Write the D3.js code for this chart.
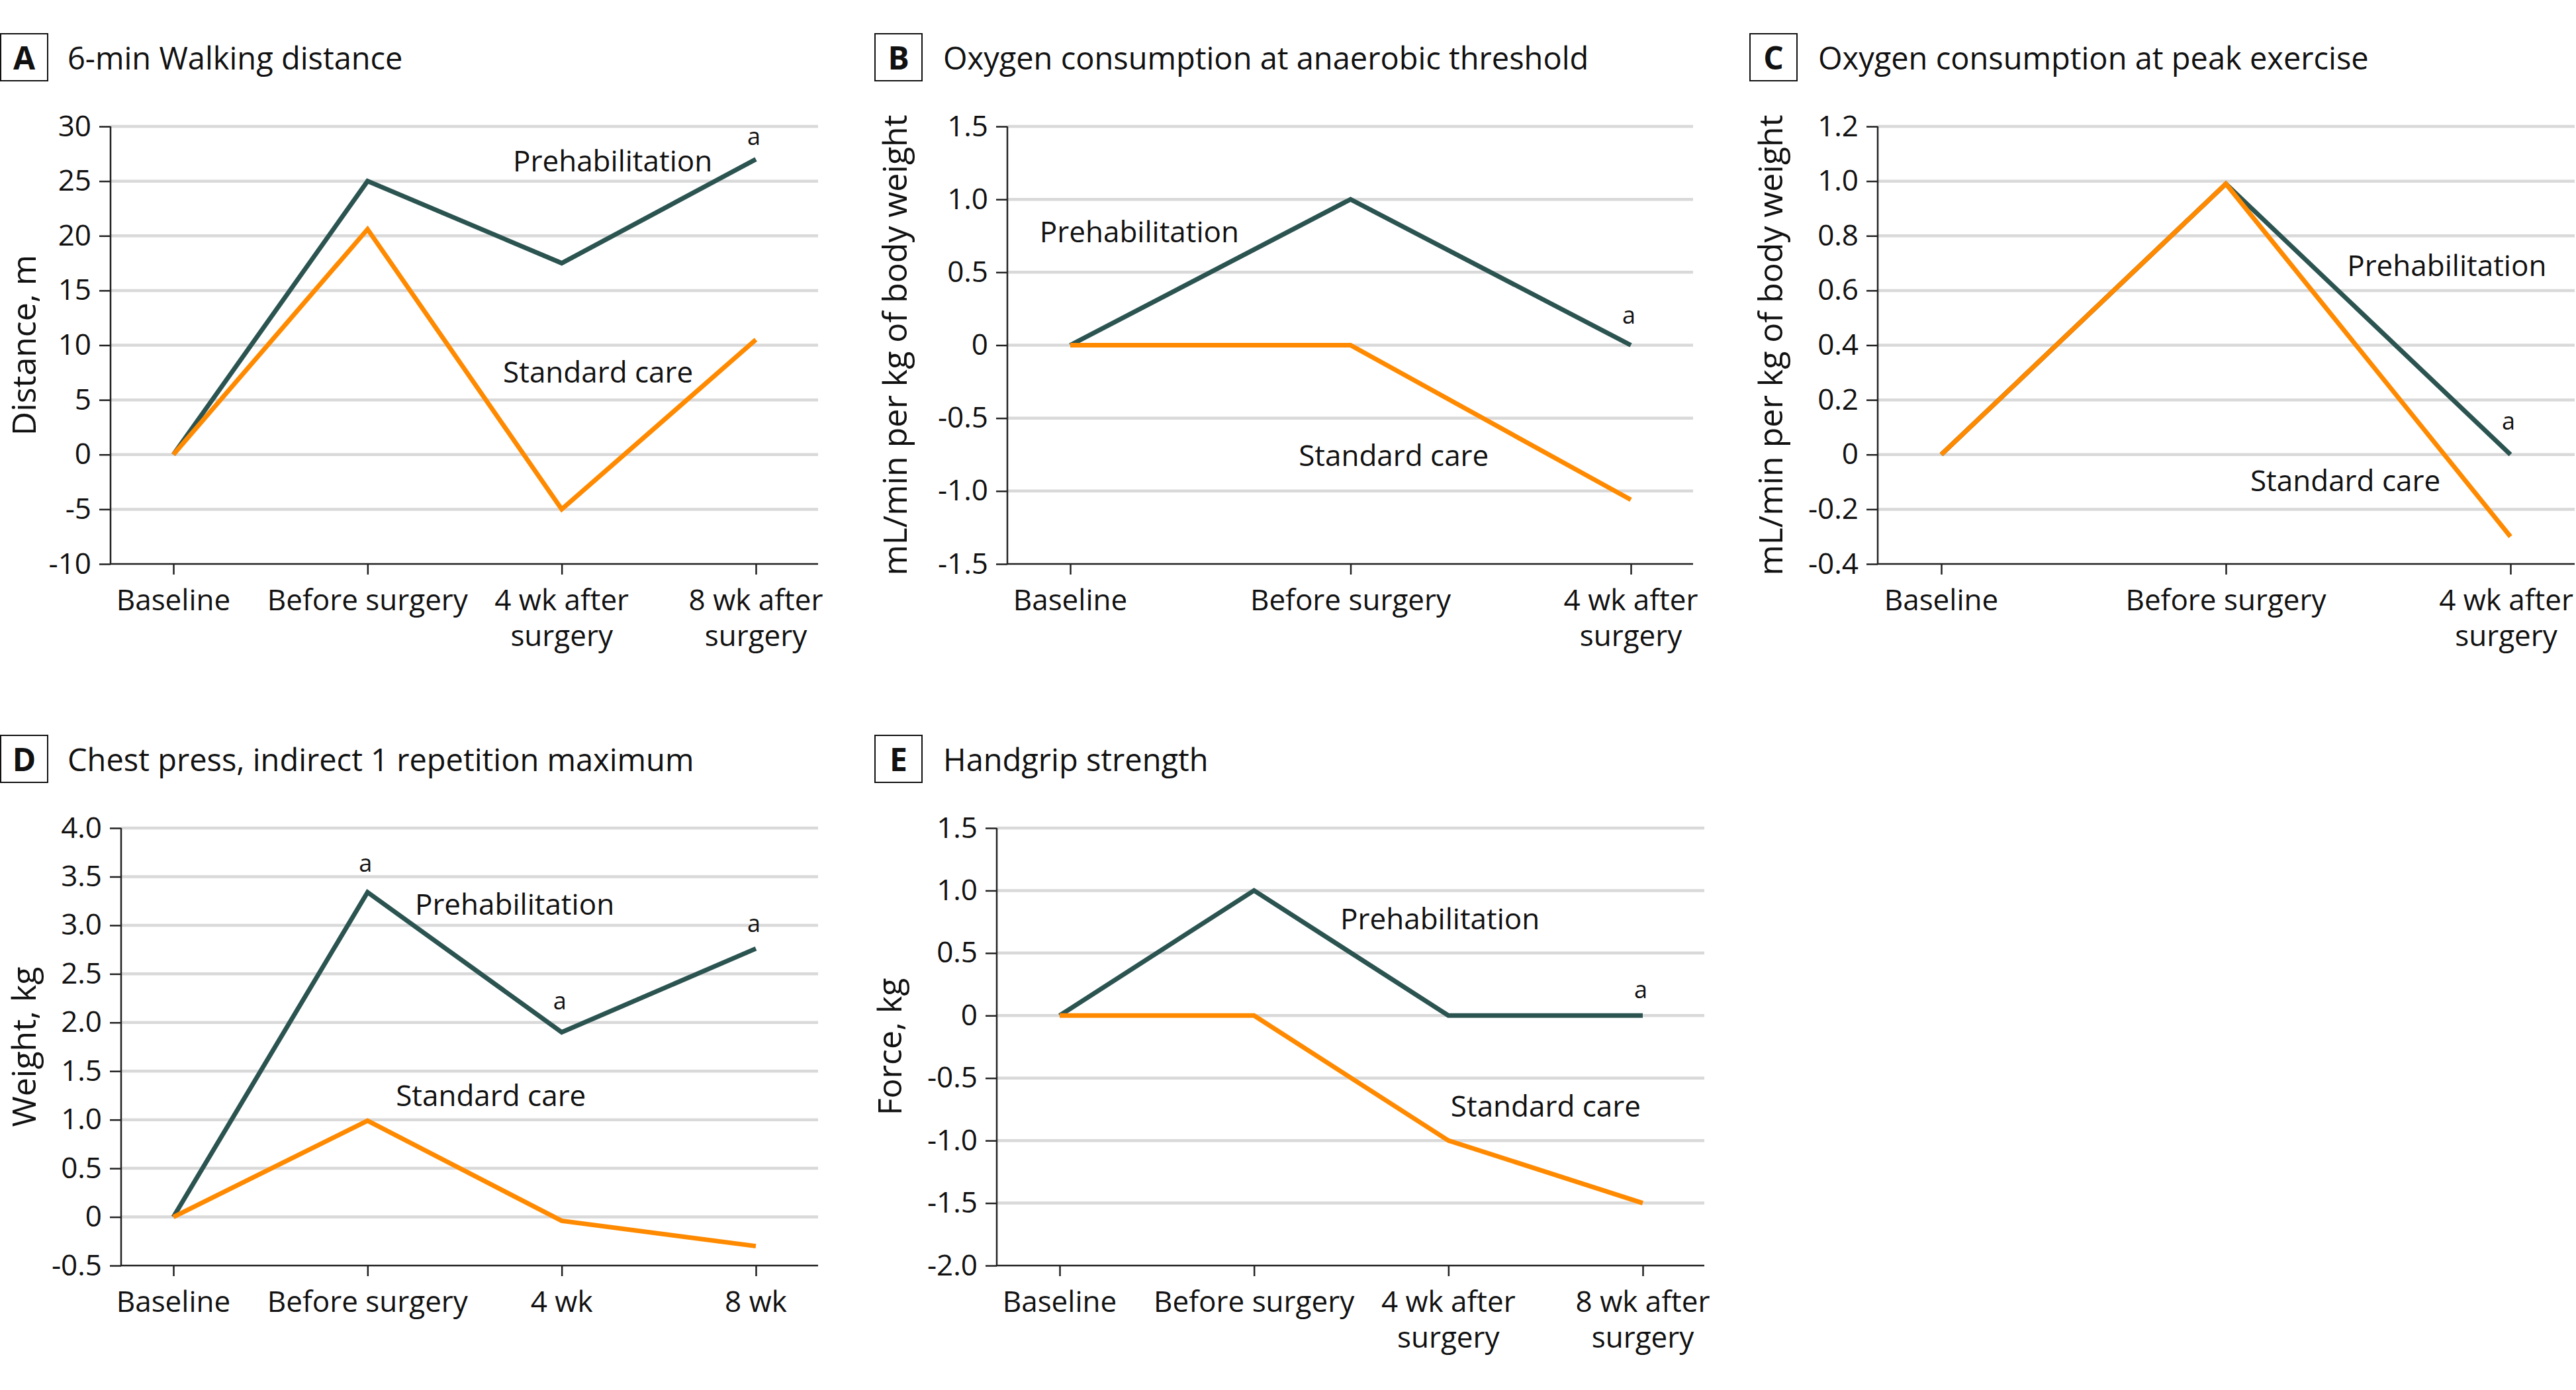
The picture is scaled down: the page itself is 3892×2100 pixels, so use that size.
<!DOCTYPE html>
<html>
<head>
<meta charset="utf-8">
<script src="https://cdn.jsdelivr.net/npm/d3@7"></script>
<style>
  html, body { margin: 0; padding: 0; background: #fff; }
  svg { display: block; }
  text { font-family: "Open Sans", "Noto Sans", sans-serif; fill: #111; }
</style>
</head>
<body>
<svg id="chart" width="3892" height="2100"></svg>
<script>
// ---------------- DATA ----------------
const panelLetters = ["A", "B", "C", "D", "E"];
const panelTitles = [
  "6-min Walking distance",
  "Oxygen consumption at anaerobic threshold",
  "Oxygen consumption at peak exercise",
  "Chest press, indirect 1 repetition maximum",
  "Handgrip strength"
];
const yAxisTitles = [
  "Distance, m",
  "mL/min per kg of body weight",
  "mL/min per kg of body weight",
  "Weight, kg",
  "Force, kg"
];

const categoriesA = ["Baseline", "Before surgery", "4 wk after\nsurgery", "8 wk after\nsurgery"];
const categoriesB = ["Baseline", "Before surgery", "4 wk after\nsurgery"];
const categoriesC = ["Baseline", "Before surgery", "4 wk after\nsurgery"];
const categoriesD = ["Baseline", "Before surgery", "4 wk", "8 wk"];
const categoriesE = ["Baseline", "Before surgery", "4 wk after\nsurgery", "8 wk after\nsurgery"];

const prehabA = [0, 25, 17.5, 27];
const standardA = [0, 20.6, -5, 10.5];
const prehabB = [0, 1.0, 0];
const standardB = [0, 0, -1.06];
const prehabC = [0, 0.99, 0];
const standardC = [0, 0.99, -0.3];
const prehabD = [0, 3.34, 1.9, 2.76];
const standardD = [0, 0.99, -0.04, -0.3];
const prehabE = [0, 1.0, 0, 0];
const standardE = [0, 0, -1.0, -1.5];

const ticksA = [-10, -5, 0, 5, 10, 15, 20, 25, 30];
const ticksB = [-1.5, -1.0, -0.5, 0, 0.5, 1.0, 1.5];
const ticksC = [-0.4, -0.2, 0, 0.2, 0.4, 0.6, 0.8, 1.0, 1.2];
const ticksD = [-0.5, 0, 0.5, 1.0, 1.5, 2.0, 2.5, 3.0, 3.5, 4.0];
const ticksE = [-2.0, -1.5, -1.0, -0.5, 0, 0.5, 1.0, 1.5];

// significance markers ("a"): category index for each panel
const sigA = [3];
const sigB = [2];
const sigC = [2];
const sigD = [1, 2, 3];
const sigE = [3];

const seriesNames = ["Prehabilitation", "Standard care"];

// ---------------- LAYOUT (positions / styles) ----------------
const colors = { prehab: "#2b5451", standard: "#ff8a00" };
const layout = [
  { axisX: 167,  right: 1236, first: 262,  last: 1142, top: 191,  bottom: 852,  boxX: 1,    titleX: 102,  titleY: 105,  yTitleX: 54,   dec: false,
    prehabLbl: [1.749, 25.9], stdLbl: [1.698, 6.58], sigDY: [1.3] },
  { axisX: 1522, right: 2558, first: 1617, last: 2464, top: 191,  bottom: 852,  boxX: 1322, titleX: 1425, titleY: 105,  yTitleX: 1370, dec: true,
    prehabLbl: [-0.109, 0.706], stdLbl: [0.815, -0.829], sigDY: [0.147] },
  { axisX: 2837, right: 3890, first: 2933, last: 3793, top: 191,  bottom: 852,  boxX: 2644, titleX: 2747, titleY: 105,  yTitleX: 2693, dec: true,
    prehabLbl: [1.426, 0.653], stdLbl: [1.086, -0.134], sigDY: [0.091] },
  { axisX: 183,  right: 1236, first: 262,  last: 1142, top: 1251, bottom: 1912, boxX: 1,    titleX: 102,  titleY: 1165, yTitleX: 54,   dec: true,
    prehabLbl: [1.244, 3.108], stdLbl: [1.146, 1.141], sigDY: [0.21, 0.235, 0.17] },
  { axisX: 1506, right: 2575, first: 1601, last: 2482, top: 1251, bottom: 1912, boxX: 1322, titleX: 1425, titleY: 1165, yTitleX: 1362, dec: true,
    prehabLbl: [1.444, 0.69], stdLbl: [2.012, -0.808], sigDY: [0.14] }
];

const panels = [
  { cats: categoriesA, pre: prehabA, std: standardA, ticks: ticksA, sig: sigA },
  { cats: categoriesB, pre: prehabB, std: standardB, ticks: ticksB, sig: sigB },
  { cats: categoriesC, pre: prehabC, std: standardC, ticks: ticksC, sig: sigC },
  { cats: categoriesD, pre: prehabD, std: standardD, ticks: ticksD, sig: sigD },
  { cats: categoriesE, pre: prehabE, std: standardE, ticks: ticksE, sig: sigE }
];

const svg = d3.select("#chart");
const W = 3892;
const TICK_FS = 44, TITLE_FS = 47, YTITLE_FS = 50;

panels.forEach((p, i) => {
  const L = layout[i];
  const g = svg.append("g");

  const x = d3.scalePoint().domain(p.cats).range([L.first, L.last]).padding(0);
  const xi = idx => L.first + idx * x.step();
  const y = d3.scaleLinear().domain([d3.min(p.ticks), d3.max(p.ticks)]).range([L.bottom, L.top]);
  const fmt = d => d === 0 ? "0" : (L.dec ? d.toFixed(1) : String(d));

  // title box + title
  const boxTop = L.titleY - 54, boxSize = 71;
  g.append("rect").attr("x", L.boxX).attr("y", boxTop).attr("width", boxSize).attr("height", boxSize)
    .attr("fill", "none").attr("stroke", "#111").attr("stroke-width", 2);
  g.append("text").attr("x", L.boxX + boxSize / 2).attr("y", L.titleY)
    .attr("text-anchor", "middle").attr("font-weight", 700).attr("font-size", 48).text(panelLetters[i]);
  g.append("text").attr("x", L.titleX).attr("y", L.titleY).attr("font-size", TITLE_FS).text(panelTitles[i]);

  // gridlines
  g.append("g").selectAll("line").data(p.ticks.filter(t => t !== d3.min(p.ticks))).join("line")
    .attr("x1", L.axisX).attr("x2", L.right)
    .attr("y1", d => y(d)).attr("y2", d => y(d))
    .attr("stroke", "#d9d9d9").attr("stroke-width", 4.5);

  // y axis
  const yAx = g.append("g").attr("transform", `translate(${L.axisX},0)`)
    .call(d3.axisLeft(y).tickValues(p.ticks).tickFormat(fmt).tickSize(17).tickPadding(12));
  yAx.select(".domain").remove();
  yAx.selectAll(".tick line").attr("stroke", "#222").attr("stroke-width", 2.5);
  yAx.selectAll(".tick text").attr("font-size", TICK_FS).attr("font-family", '"Open Sans", sans-serif').attr("fill", "#111");
  g.append("line").attr("x1", L.axisX).attr("x2", L.axisX).attr("y1", L.top).attr("y2", L.bottom)
    .attr("stroke", "#222").attr("stroke-width", 2.5);

  // x axis
  const xAx = g.append("g").attr("transform", `translate(0,${L.bottom})`)
    .call(d3.axisBottom(x).tickSize(16).tickFormat(""));
  xAx.select(".domain").remove();
  xAx.selectAll(".tick line").attr("stroke", "#222").attr("stroke-width", 2.5);
  g.append("line").attr("x1", L.axisX - 1).attr("x2", L.right).attr("y1", L.bottom).attr("y2", L.bottom)
    .attr("stroke", "#222").attr("stroke-width", 2.5);
  p.cats.forEach(c => {
    const t = g.append("text").attr("text-anchor", "middle").attr("font-size", TICK_FS)
      .attr("x", x(c)).attr("y", L.bottom + 70);
    c.split("\n").forEach((ln, k) => {
      t.append("tspan").attr("x", x(c)).attr("dy", k === 0 ? 0 : 54).text(ln);
    });
    // keep label inside the picture
    const bb = t.node().getBBox();
    const over = bb.x + bb.width - (W - 4);
    if (over > 0) {
      t.selectAll("tspan").attr("x", x(c) - over);
      t.attr("x", x(c) - over);
    }
  });

  // y axis title
  g.append("text").attr("transform", `translate(${L.yTitleX},${(L.top + L.bottom) / 2}) rotate(-90)`)
    .attr("text-anchor", "middle").attr("font-size", YTITLE_FS).text(yAxisTitles[i]);

  // lines
  const line = d3.line().x((d, k) => x(p.cats[k])).y(d => y(d));
  g.append("path").datum(p.pre).attr("d", line).attr("fill", "none")
    .attr("stroke", colors.prehab).attr("stroke-width", 7).attr("stroke-linejoin", "miter");
  g.append("path").datum(p.std).attr("d", line).attr("fill", "none")
    .attr("stroke", colors.standard).attr("stroke-width", 7).attr("stroke-linejoin", "miter");

  // series labels
  g.append("text").attr("x", xi(L.prehabLbl[0])).attr("y", y(L.prehabLbl[1]))
    .attr("font-size", TICK_FS).text(seriesNames[0]);
  g.append("text").attr("x", xi(L.stdLbl[0])).attr("y", y(L.stdLbl[1]))
    .attr("font-size", TICK_FS).text(seriesNames[1]);

  // significance markers
  p.sig.forEach((idx, k) => {
    g.append("text").attr("text-anchor", "middle").attr("font-size", 36)
      .attr("x", x(p.cats[idx]) - 3)
      .attr("y", y(p.pre[idx] + L.sigDY[k]))
      .text("a");
  });
});
</script>
</body>
</html>
